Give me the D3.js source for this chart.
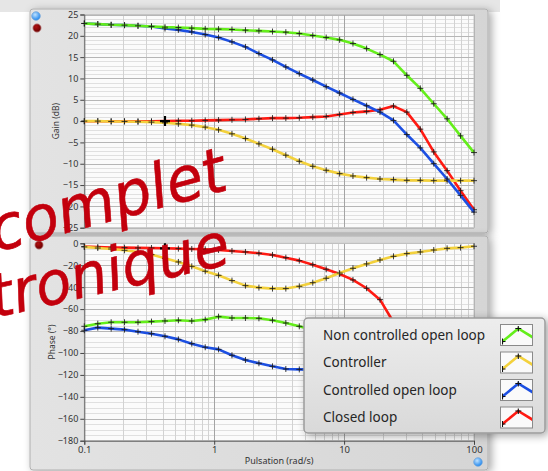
<!DOCTYPE html>
<html>
<head>
<meta charset="utf-8">
<script src="https://cdn.jsdelivr.net/npm/d3@7"></script>
<style>
body{margin:0;background:#fff;}
svg{display:block;font-family:"Noto Sans",sans-serif;}
</style>
</head>
<body>
<div id="chart"></div>
<script>
// pulsation points (rad/s), log sweep
var freq = [0.1, 0.127, 0.161, 0.204, 0.259, 0.329, 0.418, 0.530, 0.672, 0.853,
	1.08, 1.37, 1.74, 2.21, 2.81, 3.56, 4.52, 5.74, 7.28, 9.24,
	11.7, 14.9, 18.9, 24.0, 30.4, 38.6, 49.0, 62.1, 78.8, 100];

// gain (dB)
var gainPlant = [22.9, 22.74, 22.58, 22.5, 22.35, 22.19, 22.03, 21.95, 21.8, 21.64,
	21.56, 21.48, 21.32, 21.17, 21.0, 20.85, 20.54, 20.07, 19.6, 19.05,
	18.19, 17.01, 15.6, 14.03, 10.74, 7.68, 4.07, 0.54, -3.46, -7.38];
var gainController = [0, 0, -0.08, -0.08, -0.16, -0.24, -0.4, -0.64, -0.95, -1.42,
	-2.05, -2.99, -4.09, -5.34, -6.59, -8.0, -9.42, -10.6, -11.53, -12.32,
	-12.87, -13.26, -13.58, -13.73, -13.89, -13.89, -13.97, -13.97, -13.97, -13.97];
var gainControlled = [22.9, 22.74, 22.58, 22.5, 22.35, 22.19, 21.7, 21.4, 20.9, 20.3,
	19.6, 18.58, 17.4, 15.84, 14.35, 12.7, 11.13, 9.64, 8.07, 6.58,
	5.09, 3.6, 2.11, 0.15, -3.15, -6.28, -9.97, -13.58, -17.42, -21.34];
var gainClosed = [-0.05, -0.05, -0.05, -0.05, -0.05, -0.03, 0, 0.08, 0.08, 0.16,
	0.24, 0.31, 0.39, 0.55, 0.7, 0.7, 0.78, 0.93, 1.09, 1.56,
	2.03, 2.27, 2.66, 3.52, 2.11, -1.89, -7.22, -11.62, -16.32, -20.79];

// phase (deg), null where the legend hides the curve
var phasePlant = [-75.7, -73.3, -72.0, -72.0, -72.0, -71.4, -70.8, -70.2, -70.8, -69.6,
	-66.9, -68.1, -68.1, -68.4, -70.2, -72.7, -75.7, -79, null, null,
	null, null, null, null, null, null, null, null, null, null];
var phaseController = [-3.3, -4.3, -5.2, -6.4, -7.9, -10.3, -13.7, -17.0, -21.0, -25.5,
	-29.2, -34.0, -38.6, -40.4, -41.3, -41.3, -39.2, -35.9, -31.9, -27.1,
	-22.8, -18.8, -15.2, -11.9, -9.4, -7.9, -6.1, -4.6, -3.95, -2.7];
var phaseControlled = [-79.3, -76.9, -77.8, -78.7, -80.6, -82.4, -84.8, -87.6, -91.5, -94.8,
	-96.7, -102.1, -106.4, -109.4, -112.2, -114.6, -115.0, -115.2, null, null,
	null, null, null, null, null, null, null, null, null, null];
var phaseClosed = [-3.0, -3.4, -3.8, -3.95, -4.2, -4.26, -4.56, -4.86, -5.17, -5.47,
	-6.08, -7.0, -7.9, -9.1, -10.6, -13.1, -15.8, -19.5, -23.7, -28.0,
	-33.4, -41.0, -51.4, -72, null, null, null, null, null, null];

var seriesNames = ['Non controlled open loop', 'Controller', 'Controlled open loop', 'Closed loop'];
var seriesColors = ['#64ee1a', '#f3d13c', '#1c4fe2', '#ff1a12'];

var xTicks = [0.1, 1, 10, 100];
var xTickLabels = ['0.1', '1', '10', '100'];
var gainTicks = [25, 20, 15, 10, 5, 0, -5, -10, -15, -20, -25];
var phaseTicks = [0, -20, -40, -60, -80, -100, -120, -140, -160, -180];

var handWords = ['complet', 'tronique'];

var cursorIndex = 6;

main();

function main(){
	//configuration
	var width = 548,
		height = 471,
		plotLeft = 84.3,
		plotRight = 474;

	var svg = d3.select('#chart')
		.append('svg')
			.attr('width', width)
			.attr('height', height);

	var defs = svg.append('defs');

	var shadow = defs.append('filter').attr('id', 'shadow')
		.attr('x', '-10%').attr('y', '-10%').attr('width', '125%').attr('height', '125%');
	shadow.append('feDropShadow')
		.attr('dx', 3).attr('dy', 2).attr('stdDeviation', 4)
		.attr('flood-color', '#000').attr('flood-opacity', 0.35);

	var panelGrad = defs.append('linearGradient').attr('id', 'panelGrad')
		.attr('x1', 0).attr('x2', 1).attr('y1', 0).attr('y2', 0);
	panelGrad.append('stop').attr('offset', '0%').attr('stop-color', '#e3e3e3');
	panelGrad.append('stop').attr('offset', '100%').attr('stop-color', '#d5d5d5');

	var legendGrad = defs.append('linearGradient').attr('id', 'legendGrad')
		.attr('x1', 0).attr('x2', 0).attr('y1', 0).attr('y2', 1);
	legendGrad.append('stop').attr('offset', '0%').attr('stop-color', '#ededed');
	legendGrad.append('stop').attr('offset', '100%').attr('stop-color', '#d9d9d9');

	var blueDot = defs.append('radialGradient').attr('id', 'blueDot')
		.attr('cx', '40%').attr('cy', '35%').attr('r', '65%');
	blueDot.append('stop').attr('offset', '0%').attr('stop-color', '#bfe2ff');
	blueDot.append('stop').attr('offset', '100%').attr('stop-color', '#1f86ee');

	var redDot = defs.append('radialGradient').attr('id', 'redDot')
		.attr('cx', '40%').attr('cy', '35%').attr('r', '65%');
	redDot.append('stop').attr('offset', '0%').attr('stop-color', '#b01010');
	redDot.append('stop').attr('offset', '100%').attr('stop-color', '#6a0000');

	// light grey halo at the top like the original screenshot
	svg.append('rect')
		.attr('x', 0).attr('y', 0).attr('width', 500).attr('height', 12)
		.attr('fill', '#e6e6e6');

	// panels
	svg.append('rect')
		.attr('x', 30).attr('y', 9).attr('width', 458).attr('height', 224)
		.attr('rx', 3)
		.attr('fill', 'url(#panelGrad)')
		.attr('stroke', '#b0b0b0')
		.attr('filter', 'url(#shadow)');
	svg.append('rect')
		.attr('x', 30).attr('y', 236).attr('width', 458).attr('height', 234)
		.attr('rx', 3)
		.attr('fill', 'url(#panelGrad)')
		.attr('stroke', '#b0b0b0')
		.attr('filter', 'url(#shadow)');

	var x = d3.scaleLog()
		.domain([0.1, 100])
		.range([plotLeft, plotRight]);

	var yGain = d3.scaleLinear()
		.domain([-25, 25])
		.range([227.7, 14.5]);

	var yPhase = d3.scaleLinear()
		.domain([-180, 0])
		.range([440.7, 243.3]);

	var minorX = [];
	[0.1, 1, 10].forEach(function(dec){
		for (var k = 2; k <= 9; k++) minorX.push(dec * k);
	});

	drawPlot(svg, x, yGain, gainTicks, d3.range(-25, 25.01, 1), minorX,
		[gainPlant, gainController, gainControlled, gainClosed], 'Gain (dB)', 56, false);
	drawPlot(svg, x, yPhase, phaseTicks, d3.range(-180, 0.01, 5), minorX,
		[phasePlant, phaseController, phaseControlled, phaseClosed], 'Phase (°)', 52, true);

	// status dots
	svg.append('circle').attr('cx', 36).attr('cy', 16).attr('r', 4.3)
		.attr('fill', 'url(#blueDot)').attr('stroke', '#7aa8d8').attr('stroke-width', 0.8);
	svg.append('circle').attr('cx', 37).attr('cy', 28).attr('r', 4.2)
		.attr('fill', 'url(#redDot)').attr('stroke', '#c9a0a0').attr('stroke-width', 0.8);
	svg.append('circle').attr('cx', 39).attr('cy', 245).attr('r', 4.2)
		.attr('fill', 'url(#redDot)').attr('stroke', '#c9a0a0').attr('stroke-width', 0.8);
	svg.append('circle').attr('cx', 478).attr('cy', 462).attr('r', 4.3)
		.attr('fill', 'url(#blueDot)').attr('stroke', '#7aa8d8').attr('stroke-width', 0.8);

	drawLegend(svg);

	// handwritten overlay
	var hand = svg.append('g')
		.attr('fill', '#c3000d')
		.attr('stroke', '#c3000d')
		.attr('stroke-width', 0.6)
		.style('font-family', '"DejaVu Sans", sans-serif')
		.style('font-style', 'oblique');
	hand.append('text')
		.attr('transform', 'translate(-4,252) rotate(-15)')
		.attr('font-size', 62)
		.attr('textLength', 242)
		.attr('lengthAdjust', 'spacingAndGlyphs')
		.text(handWords[0]);
	hand.append('text')
		.attr('transform', 'translate(-5,318) rotate(-13)')
		.attr('font-size', 60)
		.attr('textLength', 244)
		.attr('lengthAdjust', 'spacingAndGlyphs')
		.text(handWords[1]);
}

function drawPlot(svg, x, y, majorY, minorY, minorX, values, label, labelX, showX){
	var x0 = x.range()[0], x1 = x.range()[1],
		y0 = y.range()[1], y1 = y.range()[0];

	var g = svg.append('g');

	g.append('rect')
		.attr('x', x0).attr('y', y0)
		.attr('width', x1 - x0).attr('height', y1 - y0)
		.attr('fill', '#fbfbfb');

	g.selectAll('.minor-h')
		.data(minorY)
		.enter()
		.append('line')
			.attr('x1', x0).attr('x2', x1)
			.attr('y1', function(d){ return Math.round(y(d)) + 0.5; })
			.attr('y2', function(d){ return Math.round(y(d)) + 0.5; })
			.attr('stroke', '#e0e0e0');

	g.selectAll('.minor-v')
		.data(minorX)
		.enter()
		.append('line')
			.attr('y1', y0).attr('y2', y1)
			.attr('x1', function(d){ return Math.round(x(d)) + 0.5; })
			.attr('x2', function(d){ return Math.round(x(d)) + 0.5; })
			.attr('stroke', '#d2d2d2');

	g.selectAll('.major-h')
		.data(majorY)
		.enter()
		.append('line')
			.attr('x1', x0).attr('x2', x1)
			.attr('y1', function(d){ return Math.round(y(d)) + 0.5; })
			.attr('y2', function(d){ return Math.round(y(d)) + 0.5; })
			.attr('stroke', '#b6b6b6');

	g.selectAll('.major-v')
		.data(xTicks)
		.enter()
		.append('line')
			.attr('y1', y0).attr('y2', y1)
			.attr('x1', function(d){ return Math.round(x(d)) + 0.5; })
			.attr('x2', function(d){ return Math.round(x(d)) + 0.5; })
			.attr('stroke', '#a4a4a4');

	g.append('rect')
		.attr('x', x0).attr('y', y0)
		.attr('width', x1 - x0).attr('height', y1 - y0)
		.attr('fill', 'none')
		.attr('stroke', '#c4c4c4');

	var yAxis = g.append('g')
		.attr('transform', 'translate(' + x0 + ',0)')
		.call(d3.axisLeft(y).tickValues(majorY).tickSize(4).tickPadding(2));
	yAxis.select('.domain').attr('stroke', '#666');
	yAxis.selectAll('.tick line').attr('stroke', '#444');
	yAxis.selectAll('text')
		.attr('fill', '#333')
		.style('font-size', '9px')
		.style('font-family', '"Noto Sans", sans-serif');

	if (showX){
		var xAxis = g.append('g')
			.attr('transform', 'translate(0,' + y1 + ')')
			.call(d3.axisBottom(x).tickValues(xTicks)
				.tickFormat(function(d, i){ return xTickLabels[i]; })
				.tickSize(4).tickPadding(2));
		xAxis.select('.domain').attr('stroke', '#666');
		xAxis.selectAll('.tick line').attr('stroke', '#444');
		xAxis.selectAll('text')
			.attr('fill', '#333')
			.style('font-size', '9.5px')
			.style('font-family', '"Noto Sans", sans-serif');

		g.append('text')
			.attr('x', (x0 + x1) / 2)
			.attr('y', 464)
			.attr('text-anchor', 'middle')
			.attr('fill', '#333')
			.style('font-size', '9px')
			.text('Pulsation (rad/s)');
	}

	g.append('text')
		.attr('transform', 'translate(' + labelX + ',' + ((y0 + y1) / 2) + ') rotate(-90)')
		.attr('text-anchor', 'middle')
		.attr('dy', '0.35em')
		.attr('fill', '#333')
		.style('font-size', '8.5px')
		.text(label);

	// draw order: closed, controller, controlled, plant
	var order = [3, 1, 2, 0];
	var line = d3.line()
		.defined(function(d){ return d[1] !== null; })
		.x(function(d){ return x(d[0]); })
		.y(function(d){ return y(d[1]); });

	order.forEach(function(s){
		var pts = freq.map(function(f, i){ return [f, values[s][i]]; });
		g.append('path')
			.datum(pts)
			.attr('fill', 'none')
			.attr('stroke', seriesColors[s])
			.attr('stroke-width', 2.6)
			.attr('stroke-linejoin', 'round')
			.attr('d', line);

		g.selectAll(null)
			.data(pts.filter(function(d){ return d[1] !== null; }))
			.enter()
			.append('path')
				.attr('d', function(d){
					var px = x(d[0]), py = y(d[1]);
					return 'M' + (px - 3) + ',' + py + 'H' + (px + 3) + 'M' + px + ',' + (py - 3) + 'V' + (py + 3);
				})
				.attr('stroke', '#1a1a1a')
				.attr('stroke-opacity', 0.85)
				.attr('stroke-width', 1);
	});

	// cursor
	var cx = x(freq[cursorIndex]), cy = y(values[3][cursorIndex]);
	g.append('path')
		.attr('d', 'M' + (cx - 5) + ',' + cy + 'H' + (cx + 5) + 'M' + cx + ',' + (cy - 5) + 'V' + (cy + 5))
		.attr('stroke', '#000')
		.attr('stroke-width', 2.2);
}

function drawLegend(svg){
	var lg = svg.append('g');

	lg.append('rect')
		.attr('x', 304).attr('y', 318)
		.attr('width', 241).attr('height', 115)
		.attr('rx', 4)
		.attr('fill', 'url(#legendGrad)')
		.attr('stroke', '#9c9c9c')
		.attr('stroke-width', 1.5)
		.attr('filter', 'url(#shadow)');

	var items = lg.selectAll('.item')
		.data(seriesNames)
		.enter()
		.append('g')
			.attr('class', 'item')
			.attr('transform', function(d, i){ return 'translate(0,' + (i * 27.5) + ')'; });

	items.append('text')
		.attr('x', 323)
		.attr('y', 339.5)
		.attr('fill', '#262626')
		.style('font-size', '13.5px')
		.text(function(d){ return d; });

	items.append('rect')
		.attr('x', 500.5).attr('y', 324.5)
		.attr('width', 32).attr('height', 21)
		.attr('fill', '#fafafa')
		.attr('stroke', '#8a8a8a');

	items.append('clipPath')
		.attr('id', function(d, i){ return 'sw' + i; })
		.append('rect')
			.attr('x', 502).attr('y', 326).attr('width', 30).attr('height', 19);

	var sw = items.append('g')
		.attr('clip-path', function(d, i){ return 'url(#sw' + i + ')'; });

	sw.append('path')
		.attr('d', 'M502.5,341.5L518.3,328.5L533,337.5')
		.attr('fill', 'none')
		.attr('stroke', function(d, i){ return seriesColors[i]; })
		.attr('stroke-width', 2.6);

	sw.append('path')
		.attr('d', 'M515.3,328.5H521.3M518.3,325.5V331.5M499.5,341.5H505.5M502.5,338.5V344.5')
		.attr('stroke', '#111')
		.attr('stroke-width', 1.1);
}
</script>
</body>
</html>
